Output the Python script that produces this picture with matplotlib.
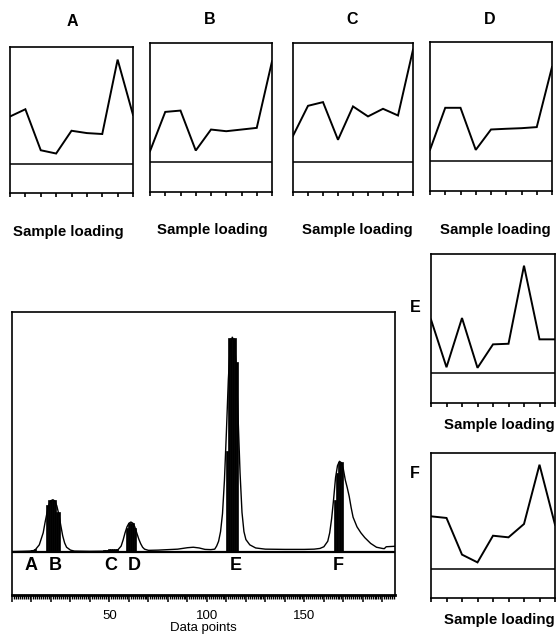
import matplotlib
matplotlib.use("Agg")
import matplotlib.pyplot as plt
from matplotlib.ticker import MultipleLocator, FixedLocator, NullFormatter

plt.rcParams['font.family'] = ['Liberation Sans', 'DejaVu Sans']

# ---------------- data ----------------
panel_labels = ['A', 'B', 'C', 'D', 'E', 'F']
sample_A = [0.405, 0.467, 0.116, 0.088, 0.283, 0.263, 0.255, 0.892, 0.419]
sample_B = [0.092, 0.422, 0.433, 0.098, 0.274, 0.260, 0.274, 0.288, 0.846]
sample_C = [0.221, 0.473, 0.504, 0.188, 0.468, 0.384, 0.448, 0.392, 0.944]
sample_D = [0.095, 0.448, 0.448, 0.095, 0.266, 0.272, 0.277, 0.286, 0.790]
sample_E = [0.450, 0.050, 0.463, 0.045, 0.242, 0.247, 0.902, 0.284, 0.284]
sample_F = [0.454, 0.440, 0.124, 0.057, 0.287, 0.273, 0.388, 0.899, 0.382]
sample_index = [0, 1, 2, 3, 4, 5, 6, 7, 8]

chrom_x = [0, 5, 9, 11, 12, 14, 16, 17, 18, 19, 20, 21, 22, 23, 24, 25, 26, 27, 28, 30, 32,
           40, 50, 54, 56, 57, 58, 59, 60, 61, 62, 63, 64, 65, 66, 67, 68, 70, 75, 80, 85,
           90, 93, 96, 99, 102, 104, 105, 106, 107, 108, 109, 110, 111, 112, 113, 114, 115,
           116, 117, 118, 119, 120, 122, 125, 130, 140, 150, 155, 158, 160, 162, 163, 164,
           165, 166, 167, 168, 169, 170, 171, 172, 173, 174, 175, 177, 179, 181, 184, 187,
           190, 191, 192, 196.5]
chrom_y = [0.002, 0.003, 0.004, 0.006, 0.010, 0.030, 0.080, 0.125, 0.165, 0.198, 0.214,
           0.218, 0.212, 0.192, 0.158, 0.112, 0.068, 0.038, 0.020, 0.008, 0.004,
           0.003, 0.004, 0.006, 0.025, 0.050, 0.080, 0.105, 0.120, 0.125, 0.120, 0.105,
           0.080, 0.055, 0.035, 0.020, 0.012, 0.007, 0.008, 0.010, 0.012,
           0.018, 0.020, 0.017, 0.011, 0.010, 0.012, 0.025, 0.045, 0.085, 0.160, 0.300,
           0.500, 0.720, 0.860, 0.895, 0.880, 0.780,
           0.560, 0.330, 0.165, 0.085, 0.052, 0.030, 0.017, 0.012, 0.011, 0.011, 0.012,
           0.015, 0.022, 0.045, 0.080, 0.140,
           0.220, 0.310, 0.360, 0.378, 0.372, 0.345, 0.300, 0.268, 0.232, 0.185, 0.145,
           0.105, 0.080, 0.060, 0.036, 0.020,
           0.015, 0.014, 0.022, 0.024]

frac_x = [10, 11, 12, 18, 19, 20, 21, 22, 23, 24, 47, 48, 49, 50, 51, 52, 53, 54,
          59, 60, 61, 62, 63, 110.2, 111.2, 112.2, 113.2, 114.2, 115.2,
          165.5, 166.5, 167.5, 168.5, 169.5]
frac_h = [0.008, 0.010, 0.012, 0.196, 0.217, 0.217, 0.217, 0.217, 0.168, 0.168,
          0.010, 0.010, 0.010, 0.012, 0.012, 0.012, 0.012, 0.012,
          0.100, 0.122, 0.122, 0.122, 0.100, 0.420, 0.890, 0.890, 0.890, 0.890, 0.790,
          0.217, 0.330, 0.375, 0.375, 0.375]

peak_labels = ['A', 'B', 'C', 'D', 'E', 'F']
peak_label_x = [10, 22, 50.5, 62.5, 115, 167.5]

main_tick_labels = ['50', '100', '150']
main_tick_pos = [50, 100, 150]

# ---------------- figure ----------------
W, H = 556, 634
fig = plt.figure(figsize=(W / 100, H / 100), dpi=100)


def px_axes(x0, y0, x1, y1):
    return fig.add_axes([x0 / W, 1 - y1 / H, (x1 - x0) / W, (y1 - y0) / H])


def small_panel(ax, values):
    ax.plot(sample_index, values, color='black', lw=1.4, solid_joinstyle='miter')
    ax.axhline(0, color='black', lw=1.1)
    ax.set_xlim(0, 8)
    ax.set_ylim(-0.25, 1.0)
    ax.set_yticks([])
    ax.xaxis.set_major_locator(FixedLocator(sample_index))
    ax.xaxis.set_major_formatter(NullFormatter())
    ax.tick_params(axis='x', direction='out', length=3, width=1.2, color='black')
    for s in ax.spines.values():
        s.set_linewidth(1.2)
        s.set_color('black')


panel_boxes = [
    (10, 47, 133, 193),
    (150, 43, 272, 192),
    (293, 43, 413, 192),
    (430, 42, 552, 191),
    (431, 254, 555, 403),
    (431, 453, 555, 598),
]
panel_values = [sample_A, sample_B, sample_C, sample_D, sample_E, sample_F]
for box, vals in zip(panel_boxes, panel_values):
    ax = px_axes(*box)
    small_panel(ax, vals)

# titles for top panels
title_pos = [(72, 21), (210, 20), (352, 19), (490, 19)]
for lab, (tx, ty) in zip(panel_labels[:4], title_pos):
    fig.text(tx / W, 1 - ty / H, lab, ha='center', va='center',
             fontsize=11.5, fontweight='bold')
# side labels for E and F
fig.text(415 / W, 1 - 308 / H, panel_labels[4], ha='center', va='center',
         fontsize=11.5, fontweight='bold')
fig.text(415 / W, 1 - 473 / H, panel_labels[5], ha='center', va='center',
         fontsize=11.5, fontweight='bold')

# "Sample loading" labels
sl_pos = [(68, 232), (212, 230), (357, 230), (495, 230), (499, 425), (499, 620)]
for (sx, sy) in sl_pos:
    fig.text(sx / W, 1 - sy / H, 'Sample loading', ha='center', va='center',
             fontsize=10.8, fontweight='bold')

# ---------------- main chromatogram ----------------
axm = px_axes(12, 312, 395, 595)
axm.plot(chrom_x, chrom_y, color='black', lw=1.0)
axm.bar(frac_x, frac_h, width=1.0, color='black', edgecolor='black', linewidth=0.5)
axm.axhline(0, color='black', lw=1.6)
axm.set_xlim(0, 196.5)
axm.set_ylim(-0.179, 1.0)
axm.set_yticks([])
axm.xaxis.set_major_locator(MultipleLocator(10))
axm.xaxis.set_minor_locator(MultipleLocator(1))


def fmt(v, pos):
    return str(int(round(v))) if int(round(v)) in main_tick_pos else ''


axm.xaxis.set_major_formatter(plt.FuncFormatter(fmt))
axm.tick_params(axis='x', which='major', direction='out', length=5, width=1.1,
                labelsize=9.5, pad=6)
axm.tick_params(axis='x', which='minor', direction='out', length=3, width=1.0)
axm.set_xlabel('Data points', fontsize=9.5, labelpad=0)
for s in axm.spines.values():
    s.set_linewidth(1.2)
    s.set_color('black')
axm.spines['bottom'].set_linewidth(2.0)
for lab, lx in zip(peak_labels, peak_label_x):
    axm.text(lx, -0.058, lab, ha='center', va='center', fontsize=13,
             fontweight='bold')

fig.savefig('out.png', dpi=100)
